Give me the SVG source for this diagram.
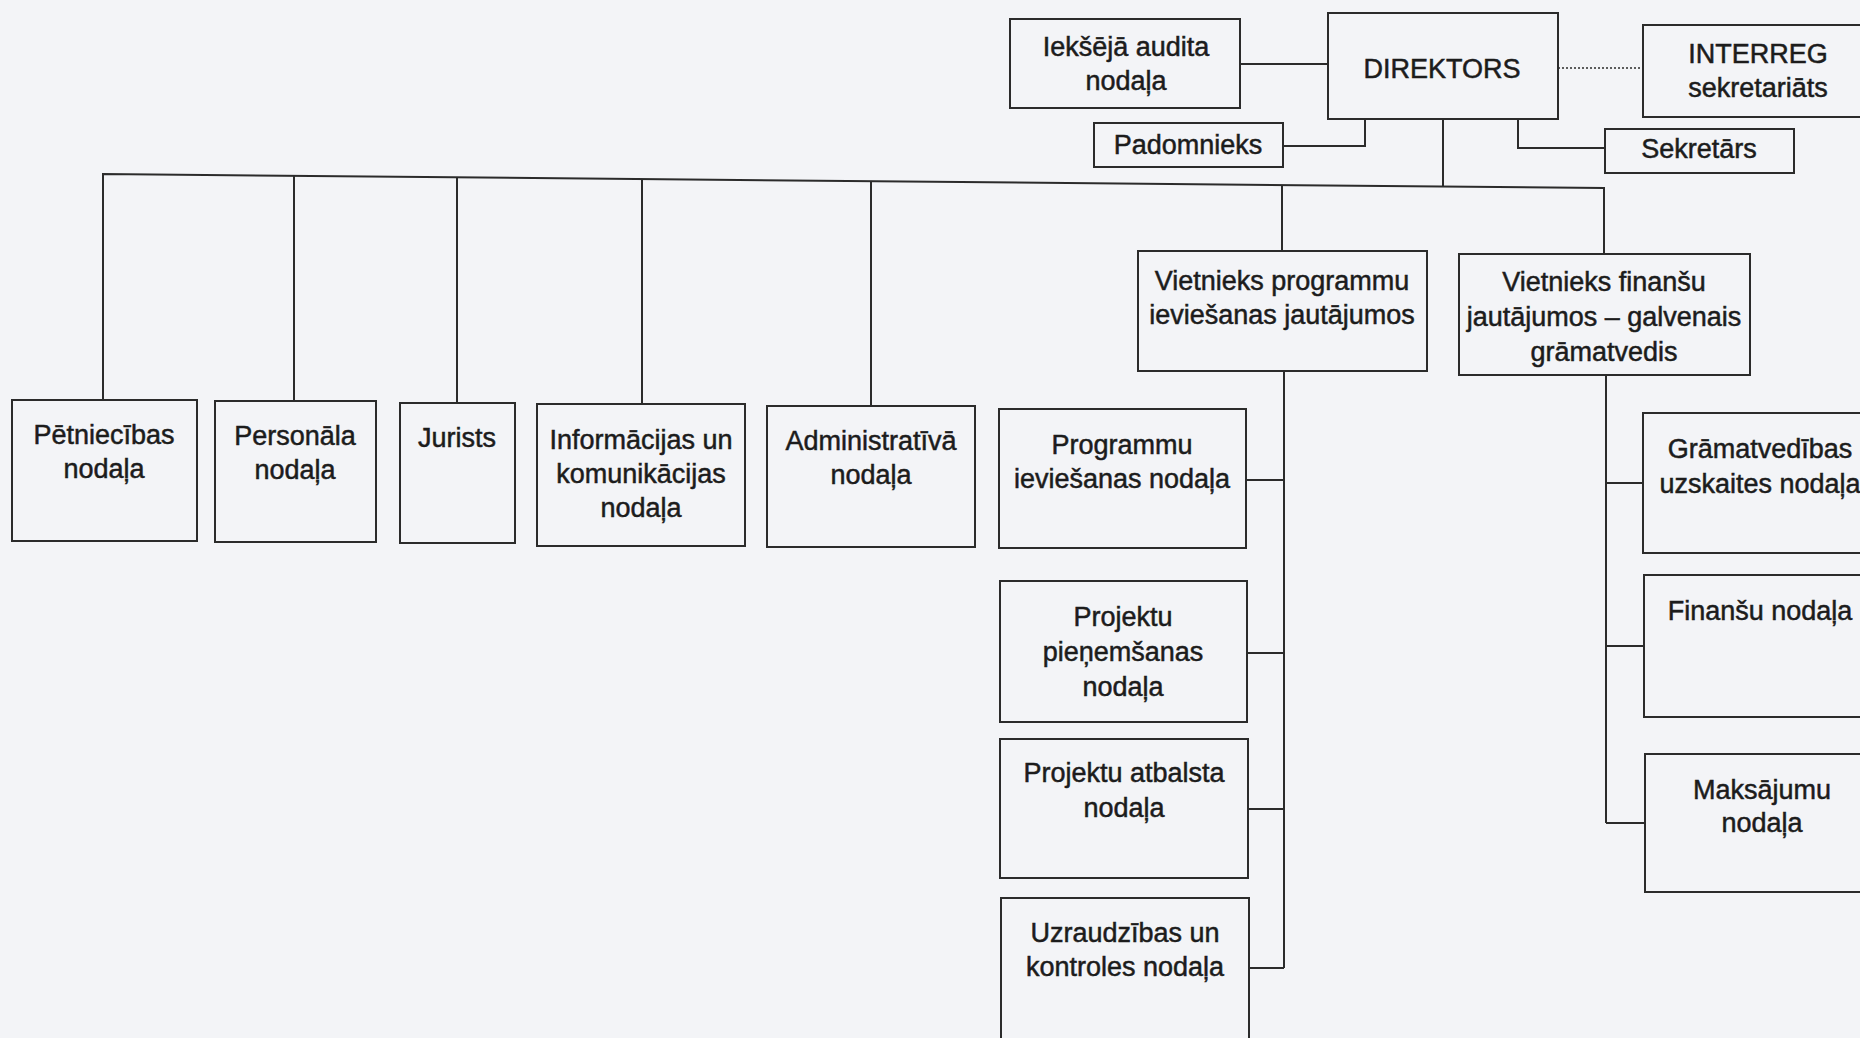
<svg xmlns="http://www.w3.org/2000/svg" width="1860" height="1038" viewBox="0 0 1860 1038">
<style>
.bg{fill:#f3f4f7}
.box{fill:none;stroke:#2b2b2b;stroke-width:2}
.ln{fill:none;stroke:#2b2b2b;stroke-width:2}
.dot{fill:none;stroke:#2b2b2b;stroke-width:1.5;stroke-dasharray:2 2}
text{font-family:"Liberation Sans",Arial,sans-serif;font-size:27px;fill:#1c1c1c;stroke:#1c1c1c;stroke-width:0.5;text-anchor:middle}
</style>
<rect class="bg" x="0" y="0" width="1860" height="1038"/>
<g id="connectors">
<line class="ln" x1="1240" y1="64" x2="1328" y2="64"/>
<line class="dot" x1="1558" y1="68" x2="1643" y2="68"/>
<polyline class="ln" points="1283,146 1365,146 1365,119"/>
<polyline class="ln" points="1518,119 1518,148 1605,148"/>
<line class="ln" x1="1443" y1="119" x2="1443" y2="186.5"/>
<polyline class="ln" points="103,400 103,174 1604,188 1604,254"/>
<line class="ln" x1="294" y1="175.8" x2="294" y2="401"/>
<line class="ln" x1="457" y1="177.3" x2="457" y2="403"/>
<line class="ln" x1="642" y1="179" x2="642" y2="404"/>
<line class="ln" x1="871" y1="181.2" x2="871" y2="406"/>
<line class="ln" x1="1282" y1="185" x2="1282" y2="251"/>
<line class="ln" x1="1284" y1="371" x2="1284" y2="968"/>
<line class="ln" x1="1246" y1="480" x2="1284" y2="480"/>
<line class="ln" x1="1247" y1="653" x2="1284" y2="653"/>
<line class="ln" x1="1248" y1="809" x2="1284" y2="809"/>
<line class="ln" x1="1249" y1="968" x2="1284" y2="968"/>
<line class="ln" x1="1606" y1="375" x2="1606" y2="823"/>
<line class="ln" x1="1606" y1="483" x2="1643" y2="483"/>
<line class="ln" x1="1606" y1="646" x2="1644" y2="646"/>
<line class="ln" x1="1606" y1="823" x2="1645" y2="823"/>
</g>
<g id="iekseja-audita">
<rect class="box" x="1010" y="19" width="230" height="89"/>
<text x="1126" y="56">Iekšējā audita</text>
<text x="1126" y="90">nodaļa</text>
</g>
<g id="direktors">
<rect class="box" x="1328" y="13" width="230" height="106"/>
<text x="1442" y="78">DIREKTORS</text>
</g>
<g id="interreg">
<rect class="box" x="1643" y="25" width="230" height="92"/>
<text x="1758" y="63">INTERREG</text>
<text x="1758" y="97">sekretariāts</text>
</g>
<g id="padomnieks">
<rect class="box" x="1094" y="123" width="189" height="44"/>
<text x="1188" y="154">Padomnieks</text>
</g>
<g id="sekretars">
<rect class="box" x="1605" y="129" width="189" height="44"/>
<text x="1699" y="158">Sekretārs</text>
</g>
<g id="petniecibas">
<rect class="box" x="12" y="400" width="185" height="141"/>
<text x="104" y="444">Pētniecības</text>
<text x="104" y="478">nodaļa</text>
</g>
<g id="personala">
<rect class="box" x="215" y="401" width="161" height="141"/>
<text x="295" y="445">Personāla</text>
<text x="295" y="479">nodaļa</text>
</g>
<g id="jurists">
<rect class="box" x="400" y="403" width="115" height="140"/>
<text x="457" y="447">Jurists</text>
</g>
<g id="informacijas">
<rect class="box" x="537" y="404" width="208" height="142"/>
<text x="641" y="449">Informācijas un</text>
<text x="641" y="483">komunikācijas</text>
<text x="641" y="517">nodaļa</text>
</g>
<g id="administrativa">
<rect class="box" x="767" y="406" width="208" height="141"/>
<text x="871" y="450">Administratīvā</text>
<text x="871" y="484">nodaļa</text>
</g>
<g id="vietnieks-programmu">
<rect class="box" x="1138" y="251" width="289" height="120"/>
<text x="1282" y="290">Vietnieks programmu</text>
<text x="1282" y="324">ieviešanas jautājumos</text>
</g>
<g id="vietnieks-finansu">
<rect class="box" x="1459" y="254" width="291" height="121"/>
<text x="1604" y="291">Vietnieks finanšu</text>
<text x="1604" y="326">jautājumos – galvenais</text>
<text x="1604" y="361">grāmatvedis</text>
</g>
<g id="programmu-ieviesanas">
<rect class="box" x="999" y="409" width="247" height="139"/>
<text x="1122" y="454">Programmu</text>
<text x="1122" y="488">ieviešanas nodaļa</text>
</g>
<g id="projektu-pienemsanas">
<rect class="box" x="1000" y="581" width="247" height="141"/>
<text x="1123" y="626">Projektu</text>
<text x="1123" y="661">pieņemšanas</text>
<text x="1123" y="696">nodaļa</text>
</g>
<g id="projektu-atbalsta">
<rect class="box" x="1000" y="739" width="248" height="139"/>
<text x="1124" y="782">Projektu atbalsta</text>
<text x="1124" y="817">nodaļa</text>
</g>
<g id="uzraudzibas">
<rect class="box" x="1001" y="898" width="248" height="150"/>
<text x="1125" y="942">Uzraudzības un</text>
<text x="1125" y="976">kontroles nodaļa</text>
</g>
<g id="gramatvedibas">
<rect class="box" x="1643" y="413" width="230" height="140"/>
<text x="1760" y="458">Grāmatvedības</text>
<text x="1760" y="493">uzskaites nodaļa</text>
</g>
<g id="finansu">
<rect class="box" x="1644" y="575" width="230" height="142"/>
<text x="1760" y="620">Finanšu nodaļa</text>
</g>
<g id="maksajumu">
<rect class="box" x="1645" y="754" width="230" height="138"/>
<text x="1762" y="799">Maksājumu</text>
<text x="1762" y="832">nodaļa</text>
</g>
</svg>
